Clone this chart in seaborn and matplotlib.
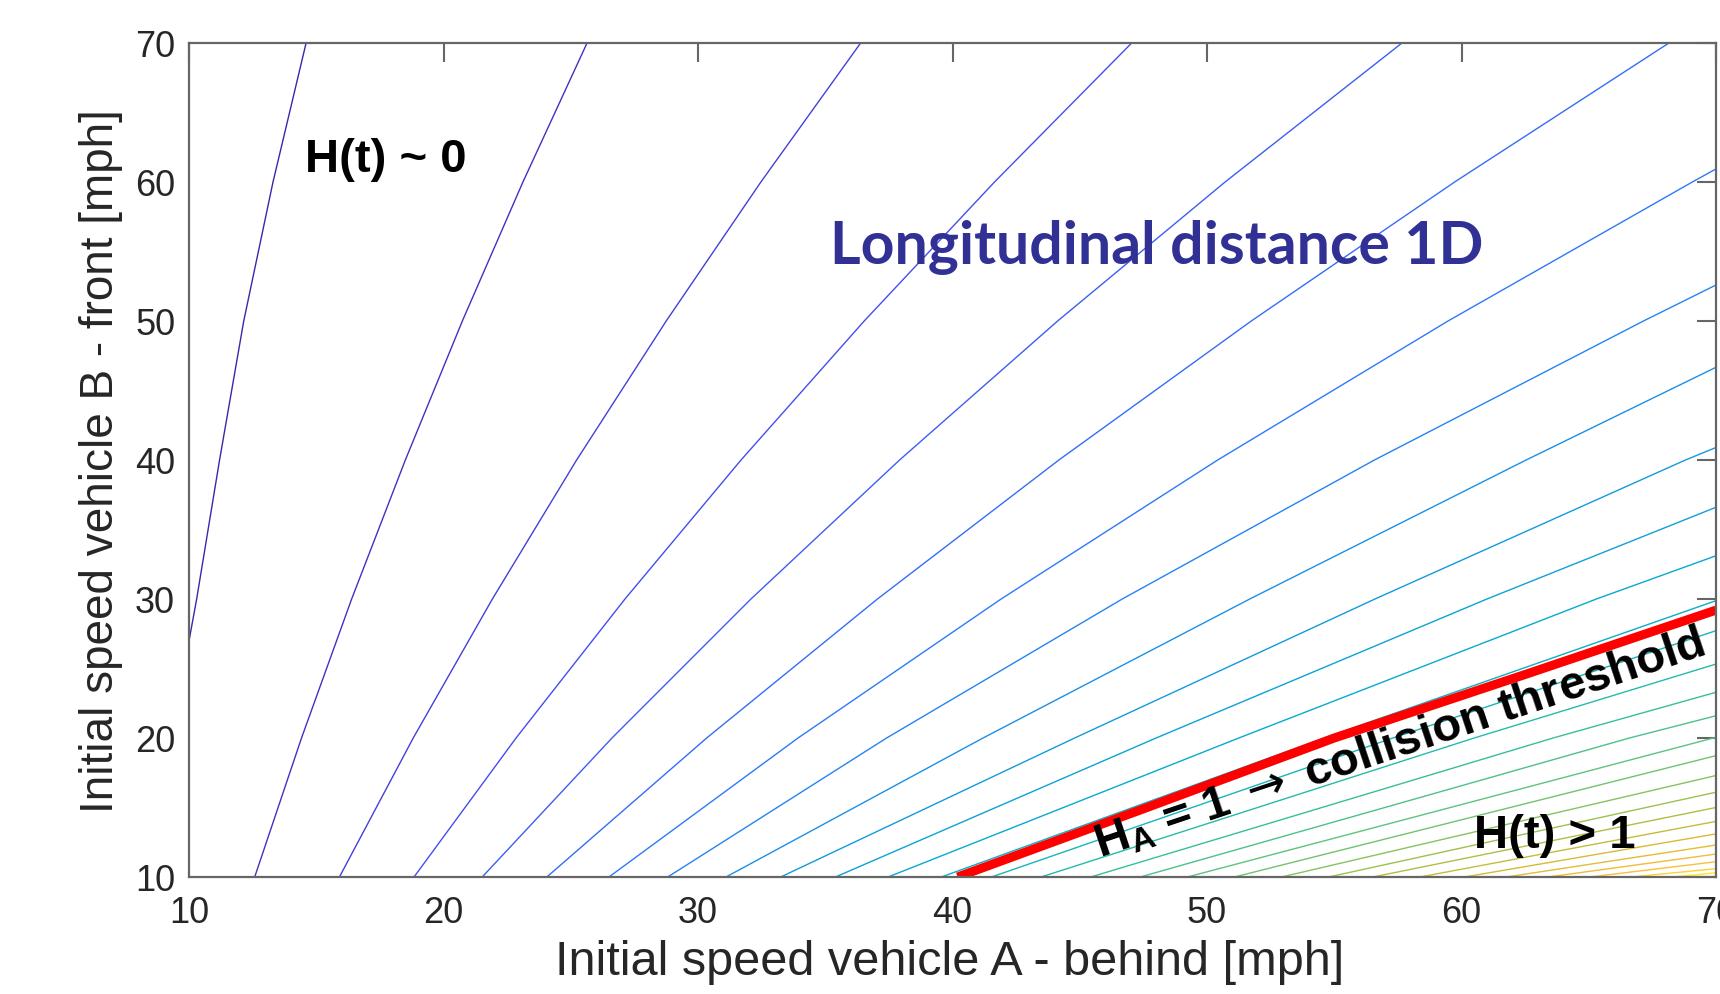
import numpy as np
import pandas as pd
import matplotlib
matplotlib.use("Agg")
import matplotlib.pyplot as plt
from matplotlib.colors import LinearSegmentedColormap
import seaborn as sns

nan = np.nan

# Iso-lines of the hazard H over the (vA, vB) plane, one entry per level,
# ordered from H ~ 0 (top left) to H > 1 (bottom right).
# vA [mph] where each iso-line crosses vB = 10, 20, ..., 70 mph
vA_at_vB10 = [nan, 12.58, 15.91, 18.84, 21.52, 24.06, 26.50, 28.81, 31.10, 33.25,
              35.40, 37.47, 39.56, 41.53, 43.48, 45.43, 47.38, 49.23, 51.08, 52.93,
              54.78, 56.52, 58.37, 60.12, 61.76, 63.40, 65.05, 66.69, 68.33, 69.66]
vA_at_vB20 = [nan, 14.42, 18.81, 22.85, 26.62, 30.34, 33.93, 37.41, 41.20, 44.80,
              48.00, 51.25, 54.60, 57.30, 60.50, 63.60, 66.60, nan, nan, nan,
              nan, nan, nan, nan, nan, nan, nan, nan, nan, nan]
vA_at_vB30 = [10.30, 16.39, 21.92, 27.13, 32.08, 37.05, 41.91, 46.67, 51.68, 56.60,
              61.00, 65.30, nan, nan, nan, nan, nan, nan, nan, nan,
              nan, nan, nan, nan, nan, nan, nan, nan, nan, nan]
vA_at_vB40 = [11.20, 18.50, 25.23, 31.69, 37.92, 44.18, 50.42, 56.58, 62.54, 68.80,
              nan, nan, nan, nan, nan, nan, nan, nan, nan, nan,
              nan, nan, nan, nan, nan, nan, nan, nan, nan, nan]
vA_at_vB50 = [12.15, 20.74, 28.75, 36.53, 44.13, 51.74, 59.47, 67.15, nan, nan,
              nan, nan, nan, nan, nan, nan, nan, nan, nan, nan,
              nan, nan, nan, nan, nan, nan, nan, nan, nan, nan]
vA_at_vB60 = [13.30, 23.12, 32.47, 41.65, 50.71, 59.73, 69.07, nan, nan, nan,
              nan, nan, nan, nan, nan, nan, nan, nan, nan, nan,
              nan, nan, nan, nan, nan, nan, nan, nan, nan, nan]
vA_at_vB70 = [14.60, 25.64, 36.39, 47.04, 57.66, 68.15, nan, nan, nan, nan,
              nan, nan, nan, nan, nan, nan, nan, nan, nan, nan,
              nan, nan, nan, nan, nan, nan, nan, nan, nan, nan]
# vB [mph] where each iso-line meets the left (vA = 10) and right (vA = 70) edges
vB_at_vA10 = [27.0, nan, nan, nan, nan, nan, nan, nan, nan, nan,
              nan, nan, nan, nan, nan, nan, nan, nan, nan, nan,
              nan, nan, nan, nan, nan, nan, nan, nan, nan, nan]
vB_at_vA70 = [nan, nan, nan, nan, nan, nan, 60.94, 52.59, 46.67, 40.90,
              36.60, 33.11, 29.88, 27.72, 25.32, 23.29, 21.60, 20.05, 18.73, 17.30,
              16.10, 15.00, 14.00, 13.10, 12.30, 11.65, 11.10, 10.60, 10.30, 10.05]

# Collision threshold H_A = 1
threshold_vA = [40.2, 47.6, 55.0, 62.6, 70.0]
threshold_vB = [10.0, 14.97, 20.0, 24.63, 29.2]

x_ticks = [10, 20, 30, 40, 50, 60, 70]
y_ticks = [10, 20, 30, 40, 50, 60, 70]

# parula-like colour ramp
parula = LinearSegmentedColormap.from_list("parula", [
    (0.242, 0.150, 0.660), (0.275, 0.300, 0.940), (0.180, 0.470, 0.985),
    (0.085, 0.590, 0.880), (0.020, 0.680, 0.800), (0.180, 0.740, 0.640),
    (0.400, 0.770, 0.470), (0.640, 0.750, 0.300), (0.860, 0.730, 0.200),
    (0.990, 0.750, 0.240), (0.977, 0.984, 0.081)])

row_speeds = (10, 20, 30, 40, 50, 60, 70)
row_tables = (vA_at_vB10, vA_at_vB20, vA_at_vB30, vA_at_vB40,
              vA_at_vB50, vA_at_vB60, vA_at_vB70)
edge_tables = ((10, vB_at_vA10), (70, vB_at_vA70))

rows = []
n_levels = len(vA_at_vB10)
for k in range(n_levels):
    pts = []
    for vb, arr in zip(row_speeds, row_tables):
        if not np.isnan(arr[k]):
            pts.append((arr[k], vb))
    for va, arr in edge_tables:
        if not np.isnan(arr[k]):
            pts.append((va, arr[k]))
    for va, vb in sorted(pts):
        rows.append((k, va, vb))
iso = pd.DataFrame(rows, columns=["level", "vA", "vB"])
palette = [parula(k / (n_levels - 1)) for k in range(n_levels)]

sns.set_theme(style="white")
plt.rcParams["font.family"] = ["Liberation Sans", "DejaVu Sans"]
plt.rcParams["mathtext.fontset"] = "custom"
plt.rcParams["mathtext.rm"] = "DejaVu Sans"
plt.rcParams["mathtext.bf"] = "Liberation Sans:bold"
plt.rcParams["mathtext.it"] = "Liberation Sans:italic"

fig = plt.figure(figsize=(17.2, 9.95), dpi=100)
ax = fig.add_axes([0.1099, 0.1176, 0.8878, 0.8382])

sns.lineplot(data=iso, x="vA", y="vB", hue="level", palette=palette,
             estimator=None, sort=False, legend=False, linewidth=1.0, ax=ax)
sns.lineplot(x=threshold_vA, y=threshold_vB, color="red", linewidth=6.5,
             estimator=None, sort=False, ax=ax, solid_capstyle="butt")

ax.set_xlim(10, 70)
ax.set_ylim(10, 70)
ax.set_xticks(x_ticks)
ax.set_yticks(y_ticks)
ax.set_xlabel("Initial speed vehicle A - behind [mph]", fontsize=35, color="0.15")
ax.set_ylabel("Initial speed vehicle B - front [mph]", fontsize=33, color="0.15")
ax.xaxis.set_label_coords(0.498, -0.074)
ax.yaxis.set_label_coords(-0.043, 0.5)

for s in ax.spines.values():
    s.set_color("0.4")
    s.set_linewidth(1.6)
ax.tick_params(direction="in", length=14, width=1.5, color="0.4",
               top=True, right=True, labelsize=26, labelcolor="0.15")
ax.tick_params(axis="x", pad=13)
ax.tick_params(axis="y", pad=10)

ax.text(14.56, 61.65, "H(t) ~ 0", fontsize=34, fontweight="bold", color="black",
        ha="left", va="center")
ax.text(60.5, 13.0, "H(t) > 1", fontsize=34, fontweight="bold", color="black",
        ha="left", va="center")
ax.text(45.8, 11.44, r"$\mathbf{H}_\mathbf{A}$ = 1 $\rightarrow$ collision threshold",
        fontsize=34, fontweight="bold", color="black", rotation=18.5,
        rotation_mode="anchor", ha="left", va="baseline")
ax.text(35.2, 55.35, "Longitudinal distance 1D", fontsize=42.5, fontweight="bold",
        family="Lato", color="#313195", ha="left", va="center")

fig.savefig("out.png", dpi=100, facecolor="white")
